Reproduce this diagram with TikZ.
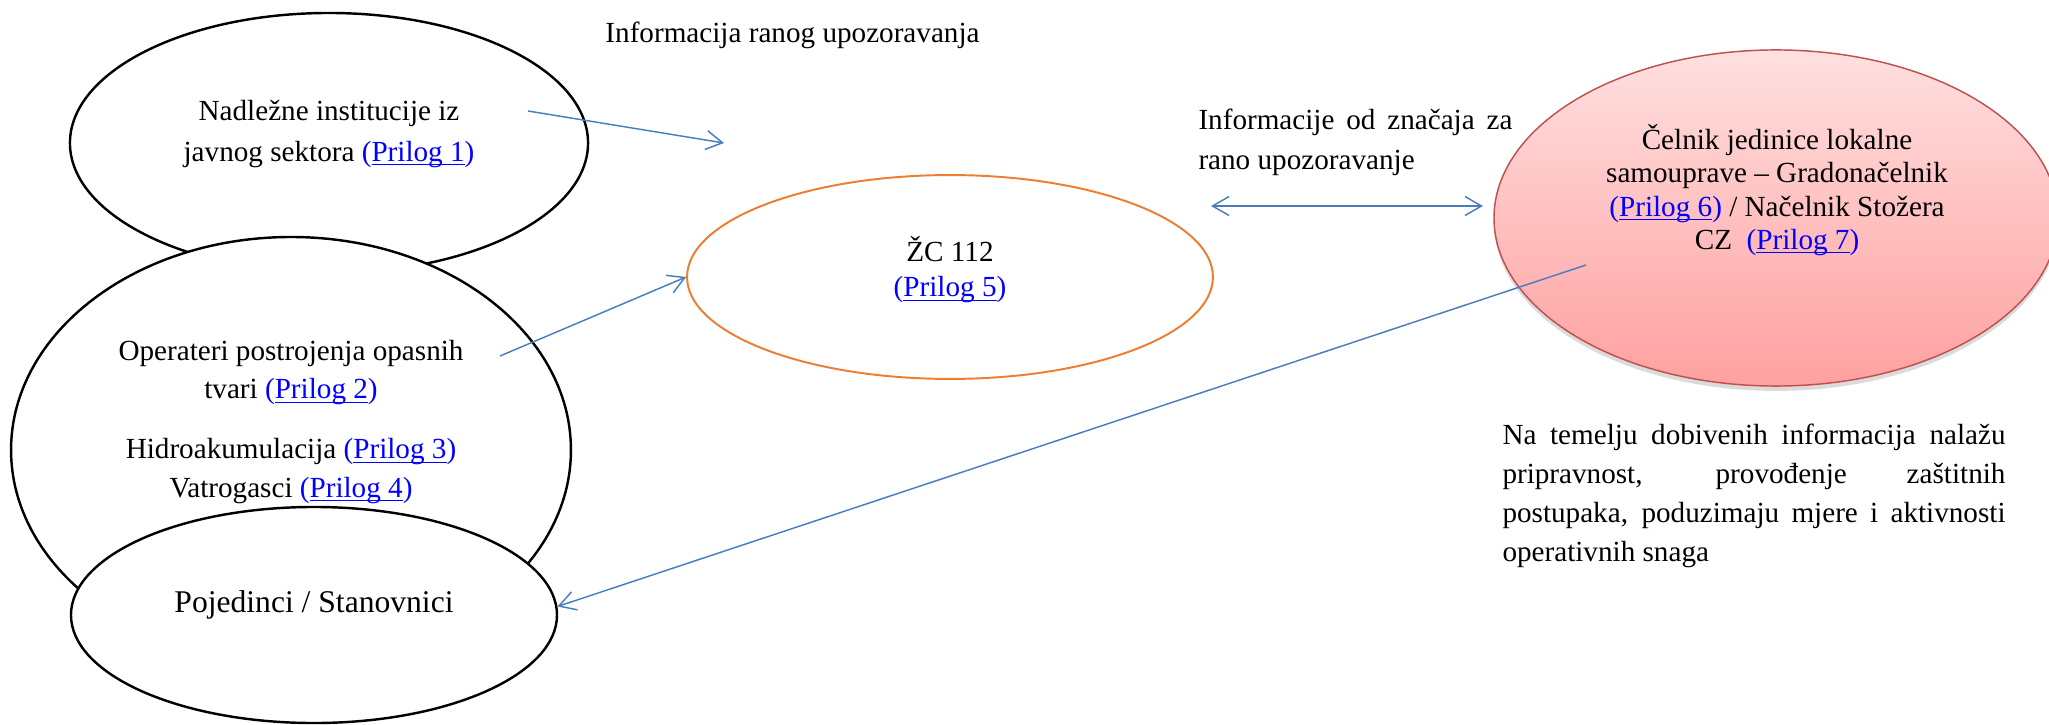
\documentclass[tikz,border=0pt]{standalone}
\usepackage{fontspec}
\setmainfont{Liberation Serif}
\usepackage{tikz}
\usetikzlibrary{arrows.meta}
\usetikzlibrary{shapes.geometric}
\usetikzlibrary{shadows}

\definecolor{linkblue}{RGB}{0,0,255}
\definecolor{arrowblue}{RGB}{74,126,187}
\definecolor{zcorange}{RGB}{237,125,49}
\definecolor{celnikred}{RGB}{192,80,77}
\definecolor{pinktop}{RGB}{255,224,224}
\definecolor{pinkbottom}{RGB}{255,160,160}
\newsavebox{\ulinkbox}
\newcommand{\ulink}[1]{\sbox{\ulinkbox}{#1}\rlap{\rule[-1.6pt]{\wd\ulinkbox}{0.5pt}}\usebox{\ulinkbox}}
\newcommand{\prilog}[1]{\textcolor{linkblue}{(\ulink{Prilog #1})}}
\newcommand{\pxu}{0.4115pt}

\begin{document}
\begin{tikzpicture}[x=\pxu, y=-\pxu]
	\useasboundingbox (0,0) rectangle (2049,725);

	\begin{scope}[every node/.style={ellipse, draw, line width=1pt, fill=white, inner sep=0pt}]
		\node[minimum width=213.2pt, minimum height=107pt] (nadlezne) at (329,143) {};
		\node[minimum width=230.4pt, minimum height=175.3pt] (operateri) at (291,450) {};
		\node[minimum width=200pt, minimum height=88.9pt] (pojedinci) at (314,615) {};
		\node[draw=zcorange, line width=0.8pt, minimum width=216.4pt, minimum height=83.9pt] (zc) at (950,277) {};
		\node[draw=celnikred, line width=0.6pt, top color=pinktop, bottom color=pinkbottom,
		      drop shadow={shadow xshift=0pt, shadow yshift=-2pt, fill=black!40, opacity=0.35},
		      minimum width=232.1pt, minimum height=138.3pt] (celnik) at (1776,218) {};
	\end{scope}

	\begin{scope}[every node/.style={align=center, inner sep=0pt, font=\fontsize{12}{16.5}\selectfont}]
		\node (t-nadlezne) at (329,134) {Nadležne institucije iz\\javnog sektora \prilog{1}};
		\node[font=\fontsize{12}{15.7}\selectfont] (t-operateri) at (291,422)
			{Operateri postrojenja opasnih\\tvari \prilog{2}\\[9pt]Hidroakumulacija \prilog{3}\\Vatrogasci \prilog{4}};
		\node[font=\fontsize{13}{16}\selectfont] (t-pojedinci) at (314,605) {Pojedinci / Stanovnici};
		\node[font=\fontsize{12}{14.4}\selectfont] (t-zc) at (950,270) {ŽC 112\\\prilog{5}};
		\node[font=\fontsize{12}{13.7}\selectfont] (t-celnik) at (1777,190)
			{Čelnik jedinice lokalne\\samouprave – Gradonačelnik\\\prilog{6} / Načelnik Stožera\\CZ\ \ \prilog{7}};
		\node[anchor=west] (t-rano) at (605,35) {Informacija ranog upozoravanja};
		\node[anchor=west, text width=129.2pt, align=justify] (t-znacaj) at (1198,142)
			{Informacije od značaja za\linebreak rano upozoravanje};
		\node[anchor=west, text width=207pt, align=justify, font=\fontsize{12}{16}\selectfont] (t-postupci) at (1502,496)
			{Na temelju dobivenih informacija nalažu\linebreak pripravnost, provođenje zaštitnih\linebreak postupaka, poduzimaju mjere i aktivnosti\linebreak operativnih snaga};
	\end{scope}

	\coordinate (nadlezne-out) at (528,111);
	\coordinate (rano-end) at (724,143);
	\coordinate (operateri-out) at (500,356);
	\coordinate (celnik-out) at (1586,265);
	\coordinate (znacaj-l) at (1211,206);
	\coordinate (znacaj-r) at (1483,206);

	\begin{scope}[>={Straight Barb[length=6.8pt, width=7.8pt]},
	              every edge/.style={draw=arrowblue, line width=0.6pt}]
		\path (nadlezne-out) edge[->] (rano-end);
		\path (operateri-out) edge[->] (zc.west);
		\path (celnik-out) edge[->] (pojedinci.2.4);
		\path (znacaj-l) edge[<->] (znacaj-r);
	\end{scope}
\end{tikzpicture}
\end{document}
